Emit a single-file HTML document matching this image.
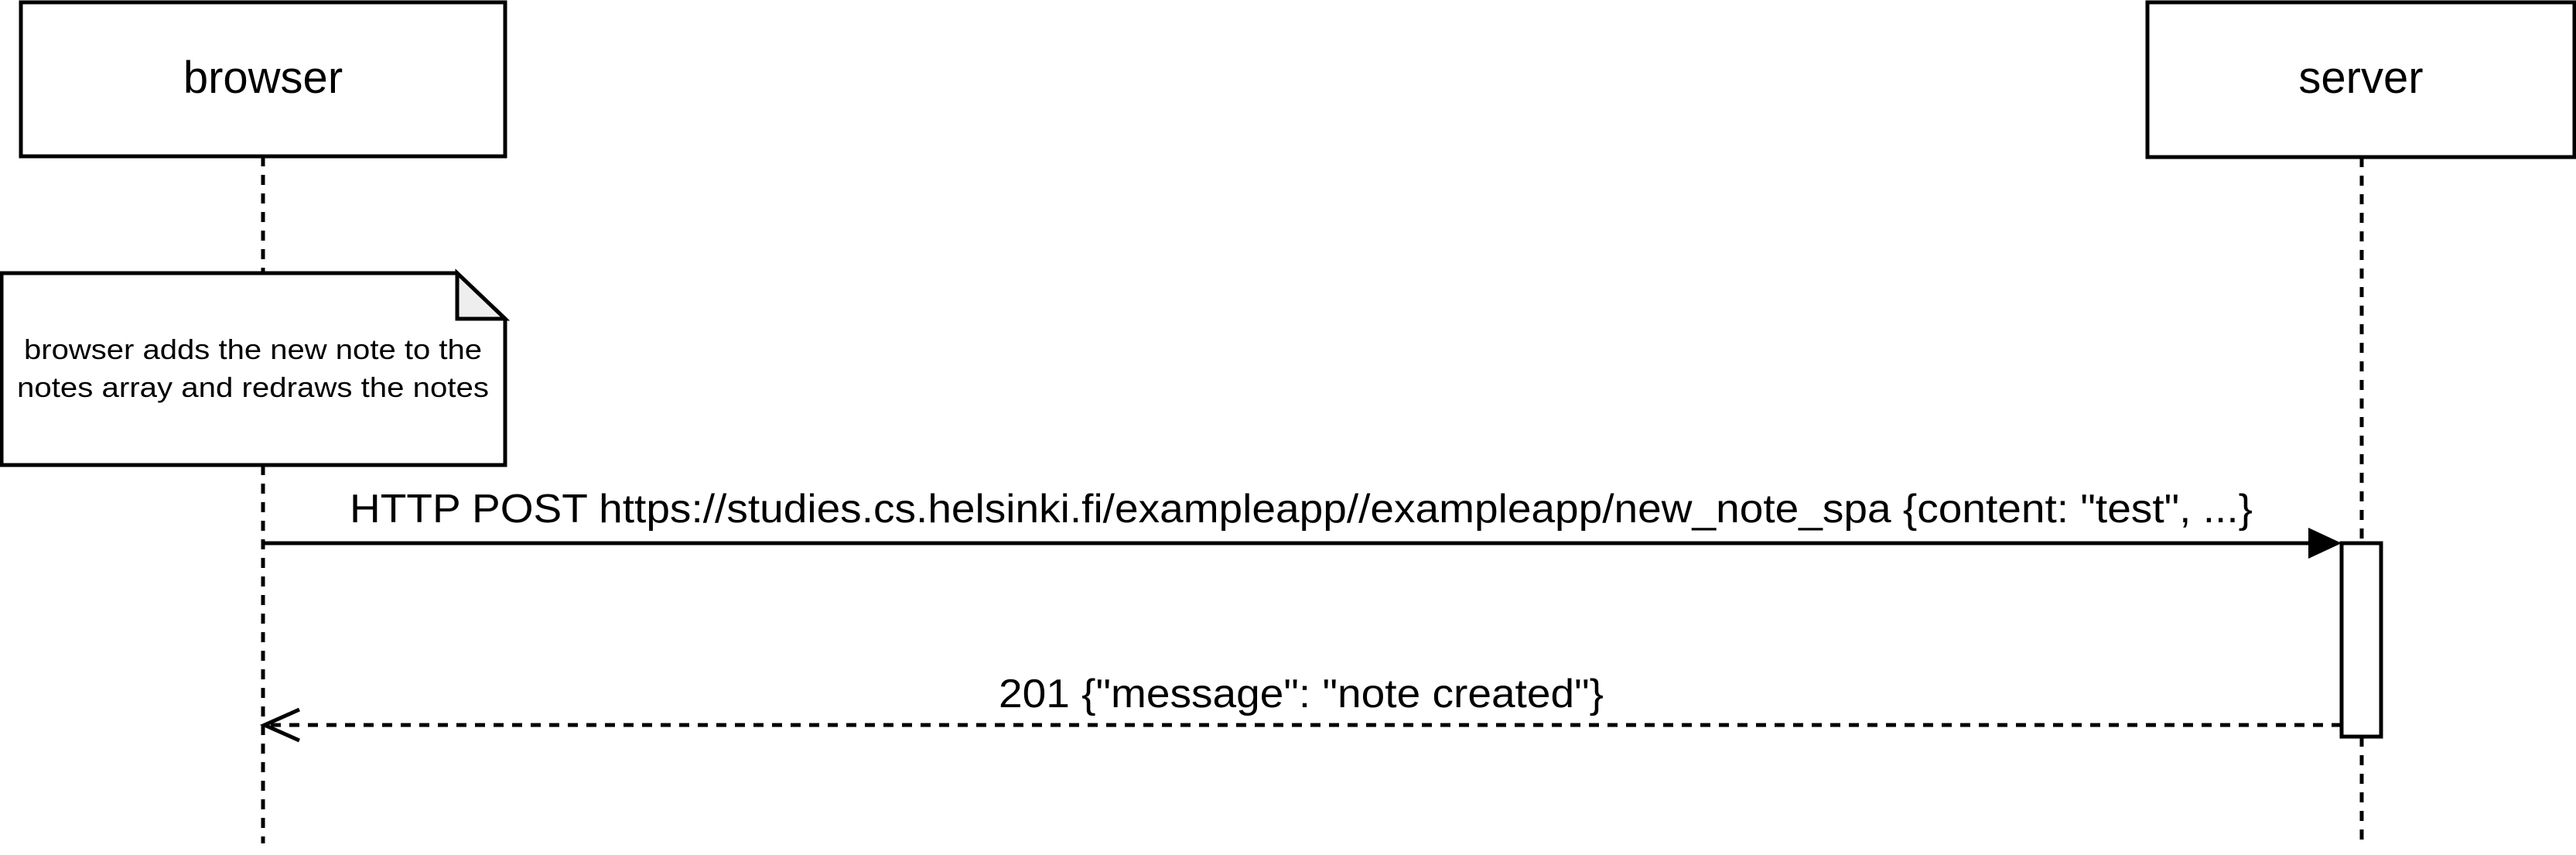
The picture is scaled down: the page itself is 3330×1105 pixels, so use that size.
<!DOCTYPE html>
<html><head><meta charset="utf-8"><style>html,body{margin:0;padding:0;background:#fff}svg{display:block}</style></head>
<body>
<svg width="3330" height="1105" viewBox="0 0 3330 1105" xmlns="http://www.w3.org/2000/svg" font-family="Liberation Sans, Arial, sans-serif">
<rect width="3330" height="1105" fill="#fff"/>
<g stroke="#000" stroke-width="5" fill="none" stroke-dasharray="13 11">
<line x1="340" y1="202" x2="340" y2="353"/>
<line x1="340" y1="601" x2="340" y2="1090"/>
<line x1="3053" y1="203" x2="3053" y2="702"/>
<line x1="3053" y1="952" x2="3053" y2="1090"/>
</g>
<rect x="27" y="3" width="626" height="199" fill="#fff" stroke="#000" stroke-width="5"/>
<text x="340" y="120" font-size="58" text-anchor="middle">browser</text>
<rect x="2776" y="3" width="552" height="200" fill="#fff" stroke="#000" stroke-width="5"/>
<text x="3052" y="120" font-size="58" text-anchor="middle">server</text>
<path d="M2,353 H591 L653,412 V601 H2 Z" fill="#fff" stroke="#000" stroke-width="5"/>
<path d="M591,353 V412 H653 Z" fill="#eee" stroke="#000" stroke-width="5" stroke-linejoin="miter"/>
<text x="327" y="464" font-size="36" text-anchor="middle" textLength="592" lengthAdjust="spacingAndGlyphs">browser adds the new note to the</text>
<text x="327" y="513" font-size="36" text-anchor="middle" textLength="610" lengthAdjust="spacingAndGlyphs">notes array and redraws the notes</text>
<line x1="340" y1="702" x2="2990" y2="702" stroke="#000" stroke-width="5"/>
<path d="M2984,682 L3027,702 L2984,722 Z" fill="#000"/>
<text x="452" y="675" font-size="52" textLength="2460" lengthAdjust="spacingAndGlyphs">HTTP POST https://studies.cs.helsinki.fi/exampleapp//exampleapp/new_note_spa {content: "test", ...}</text>
<rect x="3027" y="702" width="51" height="250" fill="#fff" stroke="#000" stroke-width="5"/>
<line x1="3027" y1="937" x2="344" y2="937" stroke="#000" stroke-width="5" stroke-dasharray="13 11"/>
<path d="M387,917 L342,937 L387,957" fill="none" stroke="#000" stroke-width="5"/>
<text x="1291" y="914" font-size="52" textLength="782" lengthAdjust="spacingAndGlyphs">201 {"message": "note created"}</text>
</svg>
</body></html>
